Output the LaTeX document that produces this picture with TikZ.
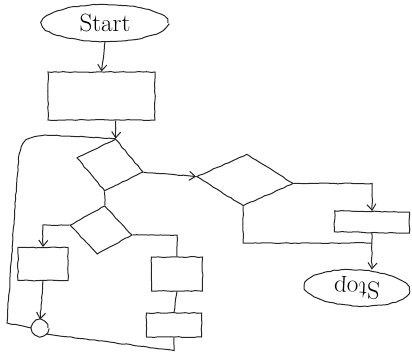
\documentclass[tikz,border=0pt]{standalone}
\usepackage{graphicx}
\usepackage{tikz}
\usetikzlibrary{arrows.meta, shapes.geometric, decorations.pathmorphing, calc}
\pgfmathsetseed{7}
\tikzset{
    pen/.style={draw=black!85, line width=1pt, decorate,
      decoration={random steps, segment length=4pt, amplitude=0.45pt}},
    terminal/.style={pen, ellipse, inner sep=0pt, font=\fontsize{25}{27}\selectfont},
    proc/.style={pen, rectangle, inner sep=0pt},
    decide/.style={pen, diamond, inner sep=0pt},
    junc/.style={pen, circle, minimum size=16pt, inner sep=0pt},
    flow/.style={pen, -{Straight Barb[length=6pt, width=9pt]}},
}

\begin{document}
\begin{tikzpicture}[x=1pt, y=-1pt]
    \useasboundingbox (0,0) rectangle (412,359);

    \node[terminal, minimum width=126pt, minimum height=37pt] (s0) at (105,23) {Start};
    \node[proc, minimum width=107pt, minimum height=48pt] (b1) at (101.5,96) {};
    \node[decide, minimum width=68pt, minimum height=53pt, rotate=-12] (d1) at (110,165) {};
    \node[decide, minimum width=97pt, minimum height=52pt, rotate=-4] (d2) at (245,180) {};
    \node[decide, minimum width=63pt, minimum height=49pt, rotate=-9] (d3) at (101,230) {};
    \node[proc, minimum width=75pt, minimum height=21pt, rotate=-1] (b3) at (372,222) {};
    \node[proc, minimum width=50pt, minimum height=33pt] (b4) at (43,264) {};
    \node[proc, minimum width=51pt, minimum height=34pt] (b5) at (177,274) {};
    \node[proc, minimum width=55pt, minimum height=24pt] (b6) at (174,325) {};
    \node[junc] (j1) at (40,328) {};
    \node[terminal, minimum width=105pt, minimum height=36pt, rotate=-3] (s1) at (357,288) {\rotatebox{180}{Stop}};

    \coordinate (m1) at (b3.south |- 0,243);

    \draw[flow] (s0.south) -- (b1.north);
    \draw[flow] (d1.north |- b1.south) -- (d1.north);
    \draw[pen] (j1.west) -- (7,323) -- (17,178) .. controls (20,140) .. (45,135) -- (d1.north);
    \draw[flow] (d1.east) -- (d2.west);
    \draw[pen] (d1.south) -- (d3.north);
    \draw[flow] (d3.west) -| (b4.north);
    \draw[pen] (d3.east) -| (b5.north);
    \draw[flow] (b4.south) -- (j1.north);
    \draw[pen] (b5.south) -- (b6.north);
    \draw[pen] (b6.south) -- ++(0,13) -- (j1.south east);
    \draw[flow] (d2.east) -| (b3.north);
    \draw[pen] (d2.south) |- (m1);
    \draw[flow] (b3.south) -- (b3.south |- s1.north);
\end{tikzpicture}
\end{document}
